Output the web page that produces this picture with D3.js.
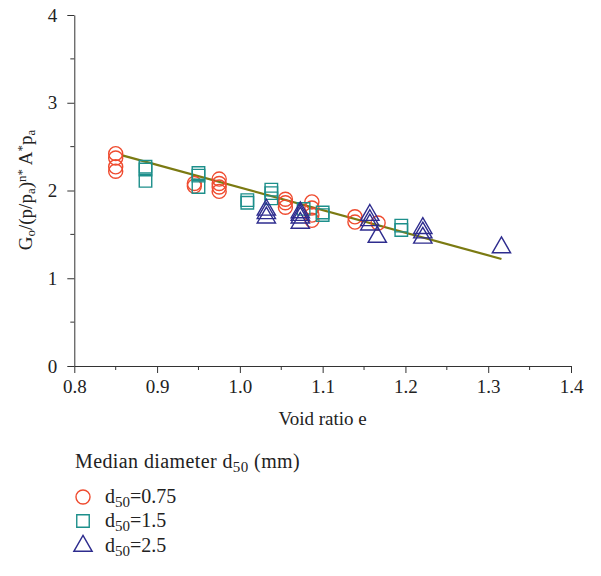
<!DOCTYPE html>
<html>
<head>
<meta charset="utf-8">
<script src="https://cdn.jsdelivr.net/npm/d3@7"></script>
<style>
  body { margin: 0; background: #fff; }
  svg { display: block; font-family: "Liberation Serif", "Times New Roman", serif; }
</style>
</head>
<body>
<svg id="chart" width="601" height="576"></svg>
<script>
// void ratio e / normalised Go values
const d075E = [0.85, 0.85, 0.85, 0.85, 0.945, 0.945, 0.975, 0.975, 0.975, 0.975, 1.055, 1.055, 1.055, 1.087, 1.087, 1.087, 1.087, 1.139, 1.139, 1.167];
const d075V = [2.42, 2.37, 2.27, 2.22, 2.08, 2.05, 2.13, 2.08, 2.04, 1.99, 1.90, 1.86, 1.81, 1.87, 1.80, 1.72, 1.66, 1.70, 1.64, 1.63];

const d15E = [0.886, 0.886, 0.886, 0.95, 0.95, 0.95, 1.009, 1.009, 1.038, 1.038, 1.038, 1.077, 1.10, 1.10, 1.195, 1.195];
const d15V = [2.27, 2.24, 2.11, 2.20, 2.17, 2.04, 1.89, 1.86, 2.01, 1.97, 1.91, 1.79, 1.75, 1.72, 1.60, 1.55];

const d25E = [1.032, 1.032, 1.032, 1.073, 1.073, 1.073, 1.073, 1.157, 1.157, 1.157, 1.166, 1.221, 1.221, 1.221, 1.316];
const d25V = [1.78, 1.74, 1.69, 1.75, 1.72, 1.69, 1.63, 1.72, 1.66, 1.61, 1.47, 1.57, 1.52, 1.46, 1.35];

// fitted line end points
const fitE = [0.858, 1.316];
const fitV = [2.40, 1.22];

const xTicks = [0.8, 0.9, 1.0, 1.1, 1.2, 1.3, 1.4];
const yTicks = [0, 1, 2, 3, 4];

const seriesNames = ['0.75', '1.5', '2.5'];
const seriesColors = ['#ef4b2f', '#1d8f8b', '#2e2c8e'];
const seriesShapes = [d3.symbolCircle, d3.symbolSquare, d3.symbolTriangle];
const seriesSizes = [155, 156, 145];

const fontMain = '19px';
const fontSub = '13px';

const svg = d3.select('#chart');
const x = d3.scaleLinear().domain([0.8, 1.4]).range([74.3, 571]);
const y = d3.scaleLinear().domain([0, 4]).range([366, 15]);
const axisColor = '#333';

// minor ticks
const xMinor = d3.range(0.85, 1.4, 0.1);
const yMinor = d3.range(0.5, 4, 1);
svg.append('g').selectAll('line').data(xMinor).join('line')
  .attr('x1', d => x(d)).attr('x2', d => x(d))
  .attr('y1', y(0)).attr('y2', y(0) + 4)
  .attr('stroke', axisColor);
svg.append('g').selectAll('line').data(yMinor).join('line')
  .attr('x1', x(0.8) - 4).attr('x2', x(0.8))
  .attr('y1', d => y(d)).attr('y2', d => y(d))
  .attr('stroke', axisColor);

const gx = svg.append('g').attr('transform', `translate(0,${y(0)})`)
  .call(d3.axisBottom(x).tickValues(xTicks).tickFormat(d3.format('.1f')).tickSize(7).tickPadding(7).tickSizeOuter(0));
const gy = svg.append('g').attr('transform', `translate(${x(0.8)},0)`)
  .call(d3.axisLeft(y).tickValues(yTicks).tickFormat(d3.format('d')).tickSize(7).tickPadding(10).tickSizeOuter(0));
[gx, gy].forEach(g => {
  g.select('.domain').attr('stroke', axisColor);
  g.selectAll('.tick line').attr('stroke', axisColor);
  g.selectAll('.tick text').attr('fill', '#222').style('font-size', fontMain).style('font-family', '"Liberation Serif", serif');
});

// axis titles
svg.append('text')
  .attr('x', x(1.1)).attr('y', 425)
  .attr('text-anchor', 'middle').attr('fill', '#222').style('font-size', fontMain)
  .text('Void ratio e');

const yl = svg.append('text')
  .attr('transform', 'translate(32,190) rotate(-90)')
  .attr('text-anchor', 'middle').attr('fill', '#222').style('font-size', fontMain);
yl.append('tspan').text('G');
yl.append('tspan').attr('baseline-shift', '-25%').style('font-size', fontSub).text('o');
yl.append('tspan').text('/(p/p');
yl.append('tspan').attr('baseline-shift', '-25%').style('font-size', fontSub).text('a');
yl.append('tspan').text(')');
yl.append('tspan').attr('baseline-shift', '45%').style('font-size', fontSub).text('n');
yl.append('tspan').attr('baseline-shift', '45%').style('font-size', fontSub).text('*');
yl.append('tspan').text(' A');
yl.append('tspan').attr('baseline-shift', '45%').style('font-size', fontSub).text('*');
yl.append('tspan').text('p');
yl.append('tspan').attr('baseline-shift', '-25%').style('font-size', fontSub).text('a');

// fit line
svg.append('path')
  .datum(d3.zip(fitE, fitV))
  .attr('d', d3.line().x(d => x(d[0])).y(d => y(d[1])))
  .attr('stroke', '#7b7a12').attr('stroke-width', 2.2).attr('fill', 'none');

// markers
const series = [[d075E, d075V], [d15E, d15V], [d25E, d25V]];
series.forEach(([es, vs], i) => {
  const sym = d3.symbol().type(seriesShapes[i]).size(seriesSizes[i]);
  svg.append('g').selectAll('path').data(d3.zip(es, vs)).join('path')
    .attr('transform', d => `translate(${x(d[0])},${y(d[1])})`)
    .attr('d', sym)
    .attr('fill', 'none')
    .attr('stroke', seriesColors[i])
    .attr('stroke-width', 1.4);
});

// legend
const legFont = '20px';
const legSub = '15px';
const lt = svg.append('text').attr('x', 75).attr('y', 468)
  .attr('fill', '#222').style('font-size', legFont).style('letter-spacing', '0.4px');
lt.append('tspan').text('Median diameter d');
lt.append('tspan').attr('baseline-shift', '-25%').style('font-size', legSub).text('50');
lt.append('tspan').text(' (mm)');

const legendY = [497, 521, 546];
seriesNames.forEach((name, i) => {
  const sym = d3.symbol().type(seriesShapes[i]).size(seriesSizes[i]);
  svg.append('path')
    .attr('transform', `translate(83,${legendY[i]})`)
    .attr('d', sym)
    .attr('fill', 'none').attr('stroke', seriesColors[i]).attr('stroke-width', 1.4);
  const t = svg.append('text').attr('x', 105).attr('y', legendY[i] + 6)
    .attr('fill', '#222').style('font-size', legFont);
  t.append('tspan').text('d');
  t.append('tspan').attr('baseline-shift', '-25%').style('font-size', legSub).text('50');
  t.append('tspan').text('=' + name);
});
</script>
</body>
</html>
